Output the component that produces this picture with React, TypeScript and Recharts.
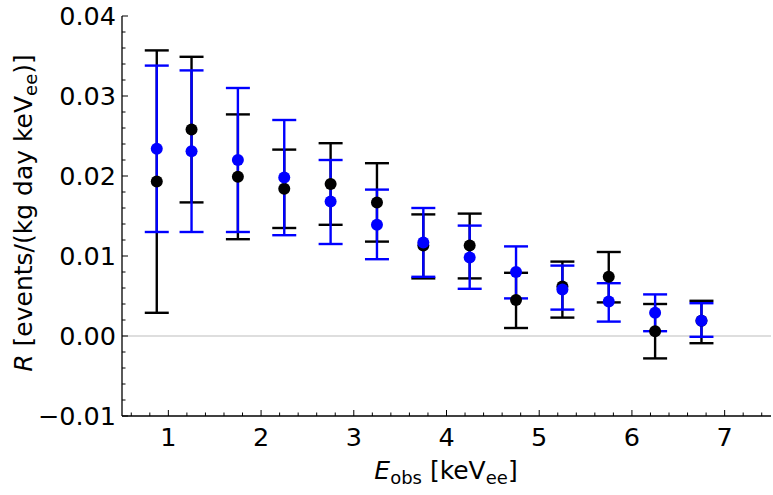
import React from 'react';
import { ScatterChart, Scatter, ErrorBar, XAxis, YAxis, ReferenceLine } from 'recharts';

const energies = [0.875, 1.25, 1.75, 2.25, 2.75, 3.25, 3.75, 4.25, 4.75, 5.25, 5.75, 6.25, 6.75];
const blackRate = [0.0193, 0.0258, 0.0199, 0.0184, 0.0190, 0.0167, 0.0113, 0.0113, 0.0045, 0.0062, 0.0074, 0.0006, 0.0019];
const blackLow = [0.0029, 0.0167, 0.0121, 0.0135, 0.0139, 0.0118, 0.0072, 0.0072, 0.0010, 0.0023, 0.0042, -0.0028, -0.0009];
const blackHigh = [0.0357, 0.0349, 0.0277, 0.0233, 0.0241, 0.0216, 0.0152, 0.0153, 0.0079, 0.0093, 0.0105, 0.0040, 0.0044];
const blueRate = [0.0234, 0.0231, 0.0220, 0.0198, 0.0168, 0.0139, 0.0117, 0.0098, 0.0080, 0.0058, 0.0043, 0.0029, 0.0019];
const blueLow = [0.0130, 0.0130, 0.0130, 0.0126, 0.0115, 0.0096, 0.0074, 0.0059, 0.0047, 0.0033, 0.0018, 0.0006, -0.0001];
const blueHigh = [0.0338, 0.0332, 0.0310, 0.0270, 0.0220, 0.0183, 0.0160, 0.0138, 0.0112, 0.0088, 0.0066, 0.0052, 0.0041];

const xMajorTicks = [1, 2, 3, 4, 5, 6, 7];
const xTickLabels = ['1', '2', '3', '4', '5', '6', '7'];
const yMajorTicks = [-0.01, 0, 0.01, 0.02, 0.03, 0.04];
const yTickLabels = ['\u22120.01', '0.00', '0.01', '0.02', '0.03', '0.04'];

const X_DOMAIN: [number, number] = [0.5, 7.5];
const Y_DOMAIN: [number, number] = [-0.01, 0.04];

const xTicksAll: number[] = [];
for (let i = 3; i <= 37; i++) xTicksAll.push(Math.round(i * 0.2 * 1000) / 1000);
const yTicksAll: number[] = [];
for (let i = -5; i <= 20; i++) yTicksAll.push(Math.round(i * 0.002 * 100000) / 100000);

const blackData = energies.map((e, i) => ({
  x: e,
  y: blackRate[i],
  err: [blackRate[i] - blackLow[i], blackHigh[i] - blackRate[i]],
}));
const blueData = energies.map((e, i) => ({
  x: e,
  y: blueRate[i],
  err: [blueRate[i] - blueLow[i], blueHigh[i] - blueRate[i]],
}));

const FONT = '"DejaVu Sans", sans-serif';
const MAJOR = 6;
const MINOR = 3.5;
const TICK_COLOR = '#000';

const xMajorIndex = (v: number) => xMajorTicks.findIndex((t) => Math.abs(t - v) < 1e-6);
const yMajorIndex = (v: number) => yMajorTicks.findIndex((t) => Math.abs(t - v) < 1e-7);

const BottomTick = (props: any) => {
  const { x, y, payload } = props;
  const idx = xMajorIndex(payload.value);
  const len = idx >= 0 ? MAJOR : MINOR;
  return (
    <g>
      <line x1={x} x2={x} y1={y} y2={y - len} stroke={TICK_COLOR} strokeWidth={1} />
      {idx >= 0 && (
        <text x={x} y={y + 30} textAnchor="middle" fontSize={25.5} fontFamily={FONT} fill="#000">
          {xTickLabels[idx]}
        </text>
      )}
    </g>
  );
};

const TopTick = (props: any) => {
  const { x, y, payload } = props;
  const idx = xMajorIndex(payload.value);
  const len = idx >= 0 ? MAJOR : MINOR;
  return <line x1={x} x2={x} y1={y} y2={y + len} stroke={TICK_COLOR} strokeWidth={1} />;
};

const LeftTick = (props: any) => {
  const { x, y, payload } = props;
  const idx = yMajorIndex(payload.value);
  const len = idx >= 0 ? MAJOR : MINOR;
  return (
    <g>
      <line x1={x} x2={x + len} y1={y} y2={y} stroke={TICK_COLOR} strokeWidth={1} />
      {idx >= 0 && (
        <text x={x - 6} y={y + 9} textAnchor="end" fontSize={25.5} fontFamily={FONT} fill="#000">
          {yTickLabels[idx]}
        </text>
      )}
    </g>
  );
};

const RightTick = (props: any) => {
  const { x, y, payload } = props;
  const idx = yMajorIndex(payload.value);
  const len = idx >= 0 ? MAJOR : MINOR;
  return <line x1={x} x2={x - len} y1={y} y2={y} stroke={TICK_COLOR} strokeWidth={1} />;
};

const dot = (color: string) => (p: any) => <circle cx={p.cx} cy={p.cy} r={6} fill={color} />;

const axisLine = { stroke: '#000', strokeWidth: 1.3 };

export default function App() {
  return (
    <div style={{ position: 'absolute', left: 0, top: 0, width: 773, height: 495, background: '#fff' }}>
      <ScatterChart width={773} height={495} margin={{ top: 16, right: 2, bottom: 0, left: 0 }}>
        <XAxis
          xAxisId="bottom"
          type="number"
          dataKey="x"
          domain={X_DOMAIN}
          ticks={xTicksAll}
          interval={0}
          allowDataOverflow
          height={79}
          tickSize={0}
          tickMargin={0}
          tickLine={false}
          axisLine={axisLine}
          tick={BottomTick}
        />
        <XAxis
          xAxisId="top"
          orientation="top"
          type="number"
          domain={X_DOMAIN}
          ticks={xTicksAll}
          interval={0}
          allowDataOverflow
          height={0}
          tickSize={0}
          tickMargin={0}
          tickLine={false}
          axisLine={axisLine}
          tick={TopTick}
        />
        <YAxis
          yAxisId="left"
          type="number"
          dataKey="y"
          domain={Y_DOMAIN}
          ticks={yTicksAll}
          interval={0}
          allowDataOverflow
          width={122}
          tickSize={0}
          tickMargin={0}
          tickLine={false}
          axisLine={axisLine}
          tick={LeftTick}
        />
        <YAxis
          yAxisId="right"
          orientation="right"
          type="number"
          domain={Y_DOMAIN}
          ticks={yTicksAll}
          interval={0}
          allowDataOverflow
          width={0}
          tickSize={0}
          tickMargin={0}
          tickLine={false}
          axisLine={axisLine}
          tick={RightTick}
        />
        <ReferenceLine xAxisId="bottom" yAxisId="left" y={0} stroke="#bdbdbd" strokeWidth={1} />
        <Scatter
          xAxisId="bottom"
          yAxisId="left"
          data={blackData}
          dataKey="y"
          fill="#000"
          shape={dot('#000')}
          isAnimationActive={false}
        >
          <ErrorBar
            dataKey="err"
            direction="y"
            width={12}
            stroke="#000"
            strokeWidth={2.4}
            style={{ strokeWidth: 2.4 }}
            isAnimationActive={false}
          />
        </Scatter>
        <Scatter
          xAxisId="bottom"
          yAxisId="left"
          data={blueData}
          dataKey="y"
          fill="#0000ff"
          shape={dot('#0000ff')}
          isAnimationActive={false}
        >
          <ErrorBar
            dataKey="err"
            direction="y"
            width={12}
            stroke="#0000ff"
            strokeWidth={2.4}
            style={{ strokeWidth: 2.4 }}
            isAnimationActive={false}
          />
        </Scatter>
      </ScatterChart>
      <svg width={773} height={495} style={{ position: 'absolute', left: 0, top: 0, pointerEvents: 'none' }}>
        <text x={446} y={479} textAnchor="middle" fontSize={25} fontFamily={FONT} fill="#000">
          <tspan fontStyle="italic">E</tspan>
          <tspan fontSize={18} dy={5}>obs</tspan>
          <tspan dy={-5}>{' [keV'}</tspan>
          <tspan fontSize={18} dy={5}>ee</tspan>
          <tspan dy={-5}>]</tspan>
        </text>
        <text
          transform="rotate(-90)"
          x={-213}
          y={32}
          textAnchor="middle"
          fontSize={25}
          fontFamily={FONT}
          fill="#000"
        >
          <tspan fontStyle="italic">R</tspan>
          <tspan>{' [events/(kg day keV'}</tspan>
          <tspan fontSize={18} dy={5}>ee</tspan>
          <tspan dy={-5}>)]</tspan>
        </text>
      </svg>
    </div>
  );
}
